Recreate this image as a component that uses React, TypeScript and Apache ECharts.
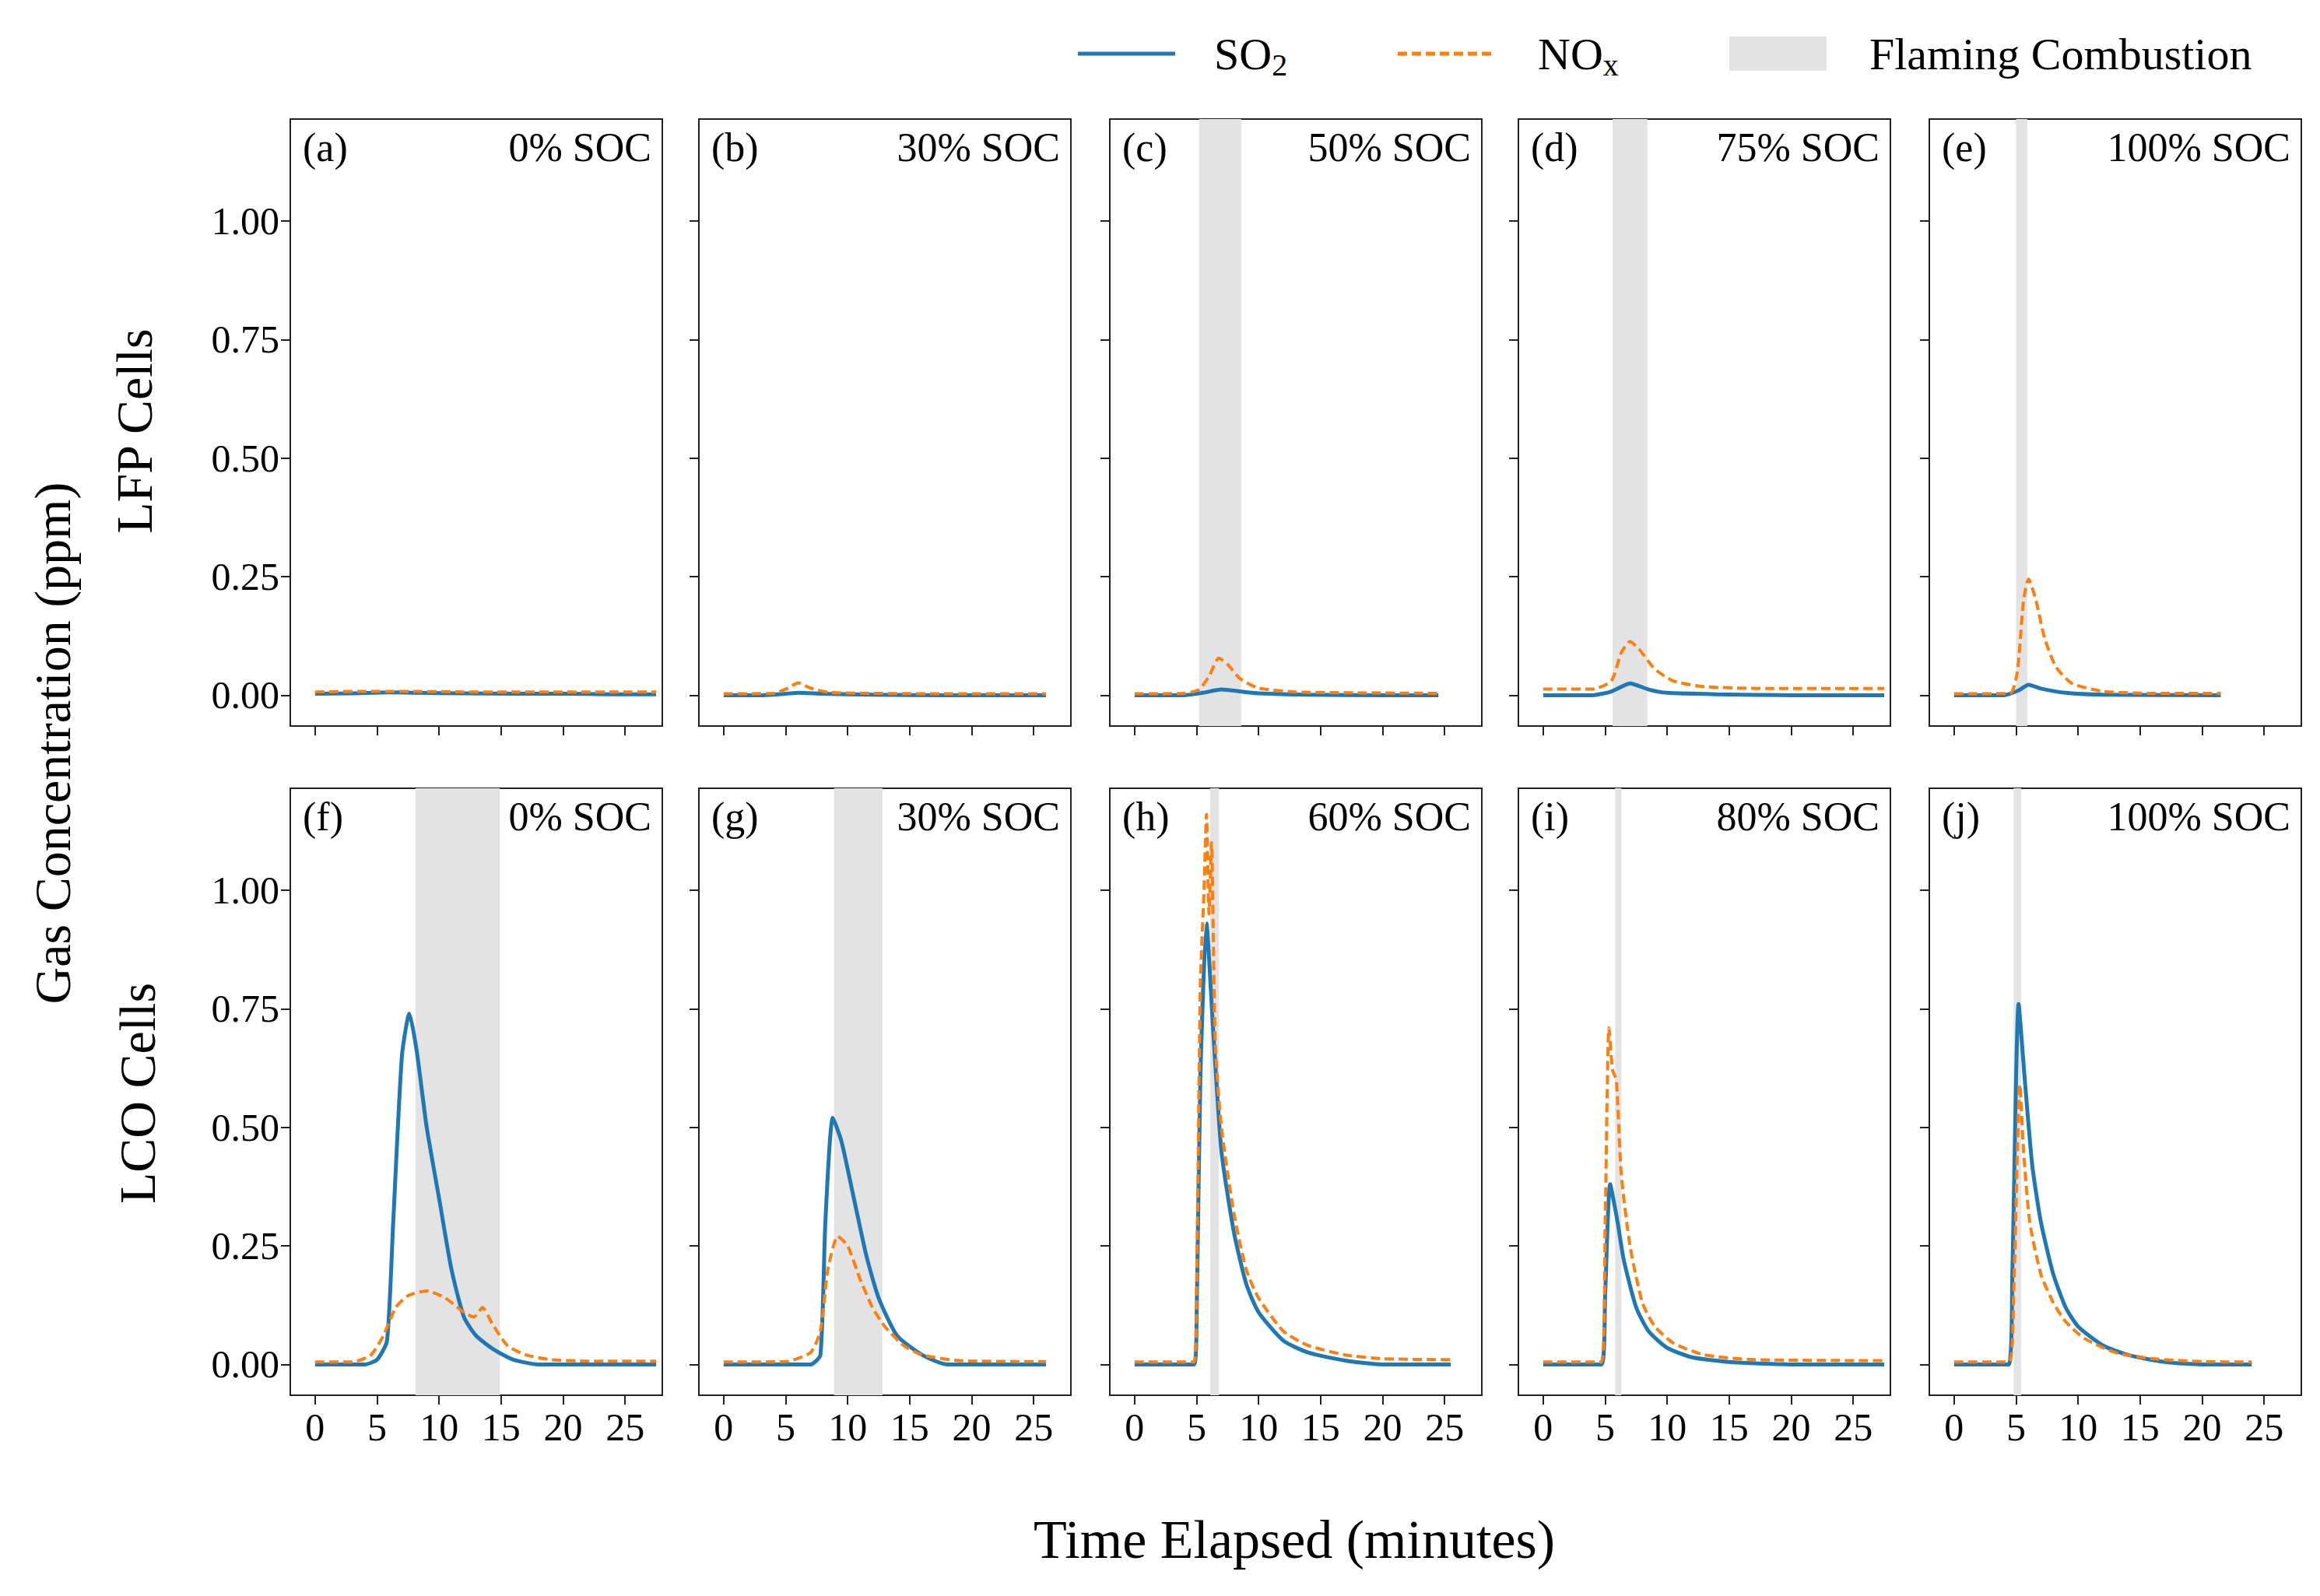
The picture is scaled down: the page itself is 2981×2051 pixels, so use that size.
import React, { useEffect, useRef } from "react";
import * as echarts from "echarts";

const xTicks = [0, 5, 10, 15, 20, 25];
const yTicks = [0, 0.25, 0.5, 0.75, 1.0];
const panelTags = ["(a)", "(b)", "(c)", "(d)", "(e)", "(f)", "(g)", "(h)", "(i)", "(j)"];
const socLabels = ["0% SOC", "30% SOC", "50% SOC", "75% SOC", "100% SOC", "0% SOC", "30% SOC", "60% SOC", "80% SOC", "100% SOC"];
const flaming: (number[] | null)[] = [null, null, [5.2, 8.6], [5.6, 8.4], [5.0, 5.9], [8.1, 14.9], [8.9, 12.8], [6.1, 6.8], [5.8, 6.3], [4.8, 5.4]];

const so2: number[][][] = [
  [[0, 0.003], [3, 0.004], [6, 0.006], [8, 0.005], [12, 0.004], [16, 0.003], [20, 0.003], [24, 0.002], [27.5, 0.002]],
  [[0, 0.0], [3, 0.0], [5, 0.003], [6, 0.005], [8, 0.003], [12, 0.001], [18, 0.0], [24, 0.0], [26, 0.0]],
  [[0, 0.0], [4, 0.0], [5.5, 0.005], [7, 0.012], [8.5, 0.008], [10, 0.004], [14, 0.001], [20, 0.0], [24.5, 0.0]],
  [[0, 0.0], [4, 0.0], [5.5, 0.008], [7, 0.025], [8.5, 0.012], [10, 0.005], [14, 0.002], [20, 0.0], [27.5, 0.0]],
  [[0, 0.0], [4, 0.0], [5.2, 0.01], [6, 0.022], [7, 0.014], [9, 0.005], [12, 0.001], [21.5, 0.0]],
  [[0, 0.0], [4, 0.0], [5, 0.01], [5.8, 0.05], [6.3, 0.3], [7, 0.65], [7.6, 0.74], [8.2, 0.66], [9, 0.5], [10, 0.35], [11, 0.2], [12, 0.1], [13, 0.06], [14.5, 0.03], [16, 0.01], [18, 0.0], [27.5, 0.0]],
  [[0, 0.0], [7, 0.0], [7.8, 0.02], [8.2, 0.3], [8.8, 0.52], [9.5, 0.47], [10.5, 0.35], [11.5, 0.23], [12.5, 0.14], [14, 0.06], [16, 0.02], [18, 0.0], [26, 0.0]],
  [[0, 0.0], [4.8, 0.0], [5.0, 0.1], [5.3, 0.6], [5.8, 0.93], [6.3, 0.72], [7, 0.45], [8, 0.28], [9, 0.17], [10, 0.11], [12, 0.05], [14, 0.025], [17, 0.008], [20, 0.0], [25.5, 0.0]],
  [[0, 0.0], [4.7, 0.0], [5.0, 0.15], [5.4, 0.38], [6, 0.3], [6.5, 0.22], [7.5, 0.12], [8.5, 0.07], [10, 0.035], [12, 0.015], [15, 0.005], [20, 0.0], [27.5, 0.0]],
  [[0, 0.0], [4.4, 0.0], [4.7, 0.2], [5.2, 0.76], [5.7, 0.6], [6.3, 0.42], [7, 0.3], [8, 0.19], [9, 0.12], [10, 0.08], [12, 0.04], [14, 0.02], [17, 0.005], [20, 0.0], [24, 0.0]],
];

const nox: number[][][] = [
  [[0, 0.007], [4, 0.008], [8, 0.008], [12, 0.007], [16, 0.007], [20, 0.007], [24, 0.007], [27.5, 0.007]],
  [[0, 0.003], [4, 0.004], [5.2, 0.015], [6, 0.026], [7, 0.015], [8.5, 0.006], [12, 0.004], [18, 0.003], [26, 0.003]],
  [[0, 0.003], [4, 0.004], [5.2, 0.012], [6, 0.04], [6.8, 0.078], [7.5, 0.065], [8.5, 0.035], [10, 0.015], [13, 0.007], [18, 0.005], [24.5, 0.004]],
  [[0, 0.013], [4, 0.013], [5.5, 0.03], [6.3, 0.09], [7, 0.113], [7.8, 0.095], [9, 0.055], [10.5, 0.03], [13, 0.018], [18, 0.014], [27.5, 0.014]],
  [[0, 0.003], [4.5, 0.004], [5.1, 0.05], [5.6, 0.2], [6, 0.245], [6.6, 0.2], [7.3, 0.12], [8.2, 0.06], [9.5, 0.025], [12, 0.008], [16, 0.004], [21.5, 0.004]],
  [[0, 0.005], [3, 0.005], [4.5, 0.02], [5.5, 0.06], [6.5, 0.12], [7.5, 0.145], [9, 0.155], [10.5, 0.14], [12, 0.11], [12.8, 0.1], [13.5, 0.12], [14.3, 0.085], [15.5, 0.04], [17, 0.02], [19, 0.01], [22, 0.007], [27.5, 0.007]],
  [[0, 0.005], [5, 0.006], [7, 0.025], [7.8, 0.07], [8.4, 0.2], [9.2, 0.27], [10, 0.25], [11, 0.18], [12, 0.12], [13, 0.08], [14.5, 0.04], [16, 0.02], [19, 0.008], [26, 0.006]],
  [[0, 0.005], [4.8, 0.005], [5.0, 0.15], [5.3, 0.8], [5.6, 1.0], [5.8, 1.16], [6.0, 0.95], [6.2, 1.1], [6.5, 0.68], [7, 0.5], [8, 0.32], [9, 0.2], [10, 0.14], [12, 0.07], [14, 0.04], [17, 0.02], [20, 0.012], [25.5, 0.01]],
  [[0, 0.005], [4.7, 0.005], [5.0, 0.3], [5.3, 0.71], [5.6, 0.62], [5.9, 0.6], [6.3, 0.4], [7, 0.25], [8, 0.13], [9, 0.08], [10.5, 0.045], [13, 0.02], [17, 0.01], [27.5, 0.008]],
  [[0, 0.005], [4.4, 0.005], [4.8, 0.15], [5.1, 0.45], [5.3, 0.59], [5.6, 0.45], [6.1, 0.3], [7, 0.19], [8, 0.13], [9, 0.09], [10.5, 0.055], [13, 0.025], [16, 0.012], [20, 0.006], [24, 0.005]],
];

const lefts = [373, 898, 1426, 1951, 2479];
const tops = [153, 1013];
const W = 478;
const H = 780;
const FONT = "Liberation Serif";

export default function App() {
  const ref = useRef<HTMLDivElement>(null);
  useEffect(() => {
    document.body.style.margin = "0";
    const chart = echarts.init(ref.current!, null, { renderer: "svg" });
    const grid: any[] = [];
    const xAxis: any[] = [];
    const yAxis: any[] = [];
    const series: any[] = [];
    const graphic: any[] = [];
    for (let i = 0; i < 10; i++) {
      const r = Math.floor(i / 5);
      const c = i % 5;
      grid.push({ left: lefts[c], top: tops[r], width: W, height: H, show: true, borderColor: "#222", borderWidth: 2, backgroundColor: "transparent" });
      xAxis.push({
        type: "value", gridIndex: i, min: -2, max: 28,
        axisLine: { show: true, onZero: false, lineStyle: { color: "#222", width: 2 } },
        axisTick: { show: true, inside: false, length: 12, customValues: xTicks, lineStyle: { color: "#222", width: 2 } },
        axisLabel: { show: r === 1, customValues: xTicks, fontFamily: FONT, fontSize: 50, color: "#000", margin: 16 },
        splitLine: { show: false },
      });
      yAxis.push({
        type: "value", gridIndex: i, min: -0.065, max: 1.215,
        axisLine: { show: true, onZero: false, lineStyle: { color: "#222", width: 2 } },
        axisTick: { show: true, inside: false, length: 12, customValues: yTicks, lineStyle: { color: "#222", width: 2 } },
        axisLabel: { show: c === 0, customValues: yTicks, formatter: (v: number) => v.toFixed(2), fontFamily: FONT, fontSize: 50, color: "#000", margin: 14 },
        splitLine: { show: false },
      });
      const fl = flaming[i];
      series.push({
        type: "line", xAxisIndex: i, yAxisIndex: i, data: nox[i], showSymbol: false, z: 3, smooth: 0.2,
        lineStyle: { color: "#ff7f0e", width: 4, type: [12, 6] },
        markArea: fl ? { silent: true, itemStyle: { color: "#e3e3e3" }, data: [[{ xAxis: fl[0], yAxis: -0.065 }, { xAxis: fl[1], yAxis: 1.215 }]], z: 1 } : undefined,
      });
      series.push({
        type: "line", xAxisIndex: i, yAxisIndex: i, data: so2[i], showSymbol: false, z: 2, smooth: 0.2,
        lineStyle: { color: "#1f77b4", width: 5 },
      });
      graphic.push({ type: "text", left: lefts[c] + 16, top: tops[r] + 10, style: { text: panelTags[i], fontFamily: FONT, fontSize: 52, fill: "#000" }, z: 10 });
      graphic.push({ type: "text", right: 2981 - (lefts[c] + W - 14), top: tops[r] + 10, style: { text: socLabels[i], fontFamily: FONT, fontSize: 52, fill: "#000", align: "right" }, z: 10 });
    }
    graphic.push({ type: "text", x: 67, y: 955, rotation: Math.PI / 2, style: { text: "Gas Concentration (ppm)", fontFamily: FONT, fontSize: 66, fill: "#000", align: "center", verticalAlign: "middle" } });
    graphic.push({ type: "text", x: 172, y: 554, rotation: Math.PI / 2, style: { text: "LFP Cells", fontFamily: FONT, fontSize: 66, fill: "#000", align: "center", verticalAlign: "middle" } });
    graphic.push({ type: "text", x: 176, y: 1405, rotation: Math.PI / 2, style: { text: "LCO Cells", fontFamily: FONT, fontSize: 66, fill: "#000", align: "center", verticalAlign: "middle" } });
    graphic.push({ type: "text", x: 1663, y: 1978, style: { text: "Time Elapsed (minutes)", fontFamily: FONT, fontSize: 70, fill: "#000", align: "center", verticalAlign: "middle" } });
    const ly = 69;
    const rich = { a: { fontFamily: FONT, fontSize: 58, color: "#000" }, s: { fontFamily: FONT, fontSize: 40, color: "#000", padding: [28, 0, 0, 0] } };
    graphic.push({ type: "line", shape: { x1: 1385, y1: ly, x2: 1510, y2: ly }, style: { stroke: "#1f77b4", lineWidth: 5 } });
    graphic.push({ type: "text", x: 1560, y: ly, style: { text: "{a|SO}{s|2}", rich, verticalAlign: "middle" } });
    graphic.push({ type: "line", shape: { x1: 1796, y1: ly, x2: 1921, y2: ly }, style: { stroke: "#ff7f0e", lineWidth: 5, lineDash: [12, 6] } });
    graphic.push({ type: "text", x: 1976, y: ly, style: { text: "{a|NO}{s|x}", rich, verticalAlign: "middle" } });
    graphic.push({ type: "rect", shape: { x: 2222, y: ly - 22, width: 125, height: 44 }, style: { fill: "#e3e3e3" } });
    graphic.push({ type: "text", x: 2402, y: ly, style: { text: "Flaming Combustion", fontFamily: FONT, fontSize: 58, fill: "#000", verticalAlign: "middle" } });

    chart.setOption({ animation: false, backgroundColor: "#fff", grid, xAxis, yAxis, series, graphic });
    return () => chart.dispose();
  }, []);
  return <div ref={ref} style={{ width: 2981, height: 2051 }} />;
}
